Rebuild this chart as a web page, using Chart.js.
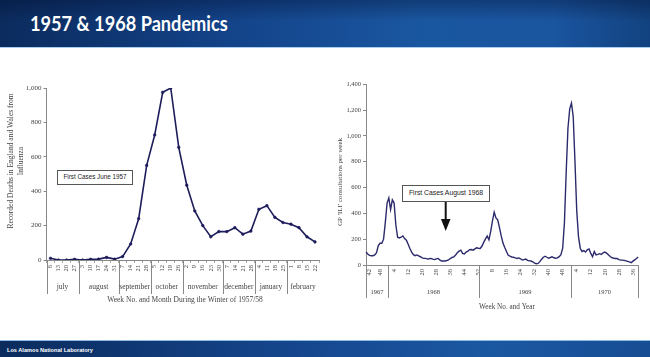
<!DOCTYPE html>
<html><head><meta charset="utf-8">
<script src="https://cdn.jsdelivr.net/npm/chart.js@4"></script>
<style>
html,body{margin:0;padding:0;}
body{width:650px;height:357px;overflow:hidden;position:relative;background:#fff;font-family:"Liberation Sans",Arial,sans-serif;}
#banner{position:absolute;left:0;top:0;width:650px;height:47px;background:linear-gradient(180deg,rgba(0,10,40,.35) 0%,rgba(0,10,40,0) 45%),linear-gradient(90deg,#0b2b5d 0%,#134389 35%,#1a57a1 65%,#1a55a0 85%,#12427f 100%);border-bottom:1.5px solid #a9cdee;}
#title{position:absolute;left:30px;top:10px;line-height:25px;color:#fff;font-family:Lato,"Open Sans",sans-serif;font-weight:700;font-size:21px;white-space:nowrap;transform:scaleX(0.865);transform-origin:0 0;}
#footer{position:absolute;left:0;top:340px;width:650px;height:17px;background:linear-gradient(90deg,#0b2b5d 0%,#15468d 45%,#1b58a2 75%,#174d93 100%);border-top:1px solid #8dbbe6;}
#footer span{position:absolute;left:7px;top:6px;color:#fff;font-family:"Liberation Sans",Arial,sans-serif;font-weight:700;font-size:5.6px;white-space:nowrap;}
.note{position:absolute;box-sizing:border-box;border:1.5px solid #555;background:#fff;color:#222;font-family:"Liberation Sans",Arial,sans-serif;text-align:center;white-space:nowrap;}
canvas{position:absolute;}
</style></head>
<body>
<div id="banner"></div>
<div id="title">1957 &amp; 1968 Pandemics</div>
<canvas id="c1" width="330" height="250" style="left:0;top:70px"></canvas>
<canvas id="c2" width="320" height="250" style="left:330px;top:70px"></canvas>
<div class="note" style="left:57px;top:170px;width:76px;height:15px;font-size:6.3px;line-height:12px">First Cases June 1957</div>
<div class="note" style="left:402px;top:185px;width:88px;height:17px;font-size:6.8px;line-height:14px">First Cases August 1968</div>
<svg style="position:absolute;left:0;top:0" width="650" height="357"><line x1="445.7" y1="202" x2="445.7" y2="220" stroke="#111" stroke-width="2"/><polygon points="441,219 450.5,219 445.7,231" fill="#111"/></svg>
<div id="footer"><span>Los Alamos National Laboratory</span></div>
<script>
// ---- 1957 pandemic (deaths per week) ----
const weekNums57 = [6,13,20,27,3,10,17,24,31,7,14,21,28,5,12,19,26,2,9,16,23,30,7,14,21,28,4,11,18,25,1,8,15,22];
const deaths57 = [10,0,0,4,0,4,5,15,5,20,93,240,550,727,975,1000,655,435,285,200,135,165,165,188,150,168,295,316,248,218,208,188,135,105];
const months57 = ['july','august','september','october','november','december','january','february'];
const weeksPerMonth57 = [4,5,4,4,5,4,4,4];

// ---- 1968 pandemic (GP ILI consultations per week) ----
const years68 = ['1967','1968','1969','1970'];
const firstWeek68 = [40,1,1,1];
const lastWeek68 = [52,52,52,39];
const tickWeeks68 = [[42,48],[4,12,20,28,36,44,52],[8,16,24,32,40,48],[4,12,20,28,36]];
const consult68 = [
100,85,75,72,72,78,95,150,168,168,
200,330,480,520,430,505,480,310,215,210,
215,225,205,192,160,128,100,80,72,78,
70,64,55,51,51,46,48,51,45,42,
48,51,40,31,31,31,35,40,50,58,
62,77,95,107,115,90,85,100,107,118,
120,115,125,133,130,128,145,175,200,225,
195,260,340,410,365,350,290,225,170,135,
105,75,68,62,60,55,51,55,48,38,
42,46,36,33,31,25,15,10,12,26,
45,60,68,60,52,58,64,56,52,55,
65,80,130,330,720,1060,1210,1255,1150,800,
420,220,130,105,112,100,118,125,90,64,
105,78,82,88,82,95,100,92,80,66,
58,52,50,50,42,38,38,36,32,28,
24,18,30,40,50,62];

const weekLabels68 = [], showTick68 = [], yearCount68 = [];
years68.forEach((y,k)=>{
  let n=0;
  for(let w=firstWeek68[k]; w<=lastWeek68[k]; w++){ weekLabels68.push(String(w)); showTick68.push(tickWeeks68[k].includes(w)); n++; }
  yearCount68.push(n);
});

const TXT='#444', AX='#888', SERIF='"Liberation Serif", "Times New Roman", serif';

function groupPlugin(id, names, counts, sepLen, labY, rightEdge, titleCfg){
  return {id, afterDraw(chart){
    const {ctx, chartArea:ca, scales:{x}} = chart;
    ctx.save();
    ctx.strokeStyle=AX; ctx.lineWidth=1; ctx.fillStyle=TXT;
    ctx.font=titleCfg.groupFont+'px '+SERIF; ctx.textAlign='center'; ctx.textBaseline='middle';
    let idx=0;
    names.forEach((m,k)=>{
      const n=counts[k];
      const x0 = k===0 ? ca.left : (x.getPixelForValue(idx-1)+x.getPixelForValue(idx))/2;
      const x1 = k===names.length-1 ? ca.right : (x.getPixelForValue(idx+n-1)+x.getPixelForValue(idx+n))/2;
      const xr=Math.round(x0)+0.5;
      ctx.beginPath(); ctx.moveTo(xr, ca.bottom); ctx.lineTo(xr, ca.bottom+sepLen); ctx.stroke();
      ctx.fillText(m,(x0+x1)/2, ca.bottom+labY);
      idx+=n;
    });
    if(rightEdge){ const xr=Math.round(ca.right)+0.5; ctx.beginPath(); ctx.moveTo(xr, ca.bottom); ctx.lineTo(xr, ca.bottom+sepLen); ctx.stroke(); }
    ctx.font=titleCfg.xFont+'px '+SERIF;
    ctx.fillText(titleCfg.xText, titleCfg.xX, titleCfg.xY);
    ctx.font=titleCfg.yFont+'px '+SERIF;
    ctx.save(); ctx.translate(titleCfg.yX, titleCfg.yY); ctx.rotate(-Math.PI/2);
    titleCfg.yLines.forEach((t,i)=>ctx.fillText(t,0,i*titleCfg.yLH));
    ctx.restore();
    ctx.restore();
  }};
}

const common = {responsive:false, animation:false, events:[], devicePixelRatio:1,
  plugins:{legend:{display:false}, tooltip:{enabled:false}}};

new Chart(document.getElementById('c1'), {
  type:'line',
  data:{labels:weekNums57.map(String), datasets:[{data:deaths57, borderColor:'#1d1d5c', backgroundColor:'#1d1d5c', borderWidth:1.6, pointRadius:1.35, pointBorderWidth:0.5, pointHoverRadius:0, tension:0, fill:false}]},
  options:Object.assign({}, common, {
    layout:{padding:{top:18,right:11,left:0,bottom:0}},
    scales:{
      x:{type:'category', offset:true,
         grid:{display:true, drawOnChartArea:false, offset:true, tickLength:3, color:'#aaa'},
         border:{display:true, color:AX, width:1},
         ticks:{autoSkip:false, maxRotation:90, minRotation:90, padding:2, color:TXT, font:{family:SERIF, size:6.5}},
         afterFit(s){ s.height=60; }},
      y:{min:0, max:1000,
         grid:{display:true, drawOnChartArea:false, tickLength:3, color:AX},
         border:{display:true, color:AX, width:1},
         ticks:{stepSize:200, padding:2, color:TXT, font:{family:SERIF, size:7}, callback:v=>Number(v).toLocaleString('en-US')},
         afterFit(s){ s.width=46.5; }}
    }
  }),
  plugins:[groupPlugin('months57', months57, weeksPerMonth57, 34, 27, false,
    {groupFont:7.5, xFont:7.5, xText:'Week No. and Month During the Winter of 1957/58', xX:185, xY:230,
     yFont:7.5, yX:11, yY:91, yLH:10.5, yLines:['Recorded Deaths in England and Wales from','Influenza']})]
});

new Chart(document.getElementById('c2'), {
  type:'line',
  data:{labels:weekLabels68, datasets:[{data:consult68, borderColor:'#2b2a6b', borderWidth:1.4, pointRadius:0, tension:0, fill:false}]},
  options:Object.assign({}, common, {
    layout:{padding:{top:14.3,right:5,left:0,bottom:0}},
    scales:{
      x:{type:'category', offset:false,
         grid:{display:false, drawTicks:false},
         border:{display:true, color:AX, width:1},
         ticks:{autoSkip:false, maxRotation:90, minRotation:90, padding:4, color:TXT, font:{family:SERIF, size:6.5},
                callback:(v,i)=>showTick68[i]?weekLabels68[i]:''},
         afterFit(s){ s.height=55; }},
      y:{min:0, max:1400,
         grid:{display:true, drawOnChartArea:false, tickLength:3, color:AX},
         border:{display:true, color:AX, width:1},
         ticks:{stepSize:200, padding:2, color:TXT, font:{family:SERIF, size:6.5}, callback:v=>Number(v).toLocaleString('en-US')},
         afterFit(s){ s.width=36; }}
    }
  }),
  plugins:[groupPlugin('years68', years68, yearCount68, 33, 27, true,
    {groupFont:6.5, xFont:7.2, xText:'Week No. and Year', xX:177, xY:237,
     yFont:7, yX:10, yY:112, yLH:10, yLines:["GP 'ILI' consultations per week"]})]
});
</script>
</body></html>
